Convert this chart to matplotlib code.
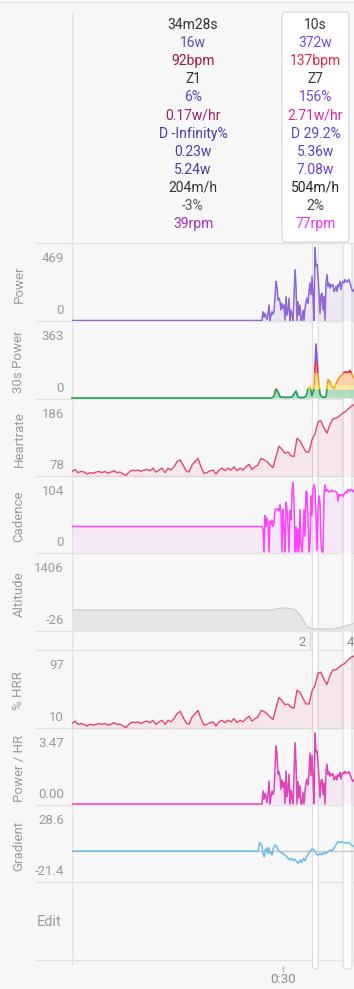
import numpy as np
import matplotlib
matplotlib.use("Agg")
import matplotlib.pyplot as plt
from matplotlib.patches import FancyBboxPatch, Rectangle

plt.rcParams['font.family'] = ['Roboto', 'DejaVu Sans']

# ---------------- data (time in minutes) ----------------
T_END = 40.10
ACTIVE_START = 27.02

power_vals = [0, 56, 20, 45, 30, 5, 40, 98, 0, 34,
              56, 40, 56, 150, 248, 216, 130, 141, 120, 66,
              109, 77, 98, 2, 152, 34, 66, 141, 0, 66,
              34, 0, 152, 323, 216, 0, 120, 34, 98, 0,
              0, 66, 0, 77, 120, 141, 109, 184, 237, 163,
              280, 152, 0, 462, 345, 355, 280, 173, 45, 163,
              173, 66, 152, 0, 237, 291, 216, 237, 205, 227,
              216, 227, 184, 195, 216, 184, 227, 216, 248, 195,
              237, 248, 237, 259, 248, 242, 255, 259, 237, 216,
              195, 184, 195]

p30_vals = [0, 0, 0, 0, 0, 0, 8, 48, 30, 6,
            3, 5, 2, 4, 3, 5, 20, 34, 5, 2,
            2, 3, 8, 45, 55, 12, 45, 265, 110, 20,
            5, 3, 5, 90, 81, 55, 47, 70, 90, 106,
            114, 126, 128, 126, 135, 114, 98]
zone_edges = [-20, 45, 70, 122, 170, 1000]
zone_line_colors = ['#1f9e5a', '#efc000', '#f39a1e', '#e0264f', '#8755d6']
zone_fill_colors = ['#a6d9b4', '#f8e4a0', '#f9cba0', '#f2a8b8', '#c8aef0']

hr_vals = [82, 85, 80, 82, 81, 78, 80, 79, 81, 82,
           80, 82, 79, 81, 83, 80, 81, 78, 76, 81,
           84, 83, 84, 82, 84, 85, 83, 87, 81, 84,
           87, 80, 87, 84, 89, 97, 100, 92, 83, 81,
           92, 97, 102, 89, 79, 80, 83, 84, 78, 84,
           87, 83, 87, 84, 89, 83, 87, 84, 89, 93,
           85, 89, 92, 102, 100, 97, 92, 88, 105, 121,
           116, 110, 112, 106, 105, 133, 129, 120, 112, 112,
           131, 140, 159, 160, 149, 141, 155, 163, 164, 167,
           171, 174, 178, 182, 185]

cad_flat = 39
cad_vals = [39, 35, 0, 56, 39, 52, 44, 0, 47, 42,
            49, 39, 44, 65, 66, 65, 66, 63, 73, 60,
            0, 65, 35, 0, 76, 65, 39, 0, 63, 49,
            91, 106, 76, 0, 39, 0, 35, 0, 65, 10,
            0, 24, 65, 24, 93, 91, 49, 0, 14, 86,
            56, 96, 103, 96, 56, 2, 65, 86, 76, 14,
            0, 0, 86, 103, 93, 96, 93, 92, 93, 92,
            95, 93, 93, 93, 92, 91, 78, 88, 86, 87,
            88, 85, 88, 91, 92, 91, 96, 95, 93, 96,
            94, 92, 95]

alt_t = [0, 28.44, 29.29, 30.28, 31.14, 31.85, 32.42, 32.85, 33.41, 33.98,
         35.26, 37.11, 38.11, 38.82, 39.53, 40.10]
alt_vals = [333, 333, 362, 371, 362, 324, 239, 144, 20, -18,
            -27, -27, 1, 30, 58, 81]

hrr_vals = [13, 16, 12, 13, 12, 10, 12, 11, 12, 13,
            12, 13, 11, 12, 14, 12, 12, 10, 8, 12,
            15, 14, 15, 13, 15, 16, 14, 17, 12, 15,
            17, 12, 17, 15, 19, 25, 28, 21, 14, 12,
            21, 25, 29, 19, 11, 12, 14, 15, 10, 15,
            17, 14, 17, 15, 19, 14, 17, 15, 19, 22,
            16, 19, 21, 29, 28, 25, 21, 18, 32, 45,
            41, 36, 37, 33, 32, 54, 51, 44, 37, 37,
            53, 60, 75, 76, 67, 61, 72, 79, 79, 82,
            85, 87, 91, 94, 96]

pwr_hr_vals = [0, 0.64, 0.23, 0.52, 0.35, 0.06, 0.46, 1.13, 0, 0.39,
               0.64, 0.46, 0.64, 1.72, 2.84, 2.45, 1.46, 1.57, 1.33, 0.72,
               1.18, 0.83, 1.05, 0.02, 1.61, 0.36, 0.69, 1.46, 0, 0.67,
               0.34, 0, 1.43, 3.0, 2.0, 0, 1.1, 0.31, 0.89, 0,
               0, 0.58, 0, 0.67, 1.04, 1.21, 0.93, 1.56, 2.49, 1.39,
               2.38, 1.29, 0, 3.47, 2.55, 2.59, 2.02, 1.23, 0.32, 1.14,
               1.2, 0.46, 1.04, 0, 1.6, 1.95, 1.44, 1.57, 1.35, 1.48,
               1.4, 1.47, 1.18, 1.25, 1.38, 1.17, 1.44, 1.36, 1.56, 1.22,
               1.48, 1.54, 1.47, 1.6, 1.53, 1.49, 1.56, 1.58, 1.44, 1.31,
               1.18, 1.11, 1.17]

grad_t_early = [26.49, 26.64, 26.83, 27.02, 27.21, 27.35, 27.49, 27.68, 27.82,
                27.96, 28.15, 28.30, 28.44, 28.63]
grad_vals = [0, 5.9, 5.4, 3.1, -2.8, -4, 0.7, 1.9, -1.6, 2.6,
             -1.6, -0.5, -2.8, 1.9, 4.2, 3.1, 0.7, -0.5, -1.2, -2.1,
             -2.8, -4, -5.2, -6.3, -5.2, -6.8, -5.9, -7.5, -8.7, -6.3,
             -8.2, -5.2, -6.8, -4, -2.1, -0.5, 1.2, 1.2, -0.5, -2.3,
             -2.8, -1.6, -2.8, -1.2, -2.1, -1.2, -0.5, 0.7, 0.2, 1.2,
             3.1, 5.4, 6.6, 5.9, 6.6, 6.1, 5.9, 5.4, 6.1, 5.4,
             4.2, 3.1]

axis_labels = ['Power', '30s Power', 'Heartrate', 'Cadence', 'Altitude',
               '% HRR', 'Power / HR', 'Gradient']
tick_top = ['469', '363', '186', '104', '1406', '97', '3.47', '28.6']
tick_bot = ['0', '0', '78', '0', '-26', '10', '0.00', '-21.4']

tooltip_left = ['34m28s', '16w', '92bpm', 'Z1', '6%', '0.17w/hr', 'D -Infinity%',
                '0.23w', '5.24w', '204m/h', '-3%', '39rpm']
tooltip_left_colors = ['#333333', '#5550b4', '#a3183c', '#333333', '#5a48b8', '#a0206a',
                       '#4a3ca8', '#4a3ca8', '#4a3ca8', '#333333', '#555555', '#a030b8']
tooltip_right = ['10s', '372w', '137bpm', 'Z7', '156%', '2.71w/hr', 'D 29.2%',
                 '5.36w', '7.08w', '504m/h', '2%', '77rpm']
tooltip_right_colors = ['#333333', '#7a48d8', '#e02848', '#333333', '#7a48d8', '#e0249a',
                        '#5048c8', '#5048c8', '#6a40d0', '#222222', '#444444', '#f030f0']

lap_labels = ['2', '4']
x_tick_vals = [30]
x_tick_labels = ['0:30']

# ---------------- layout ----------------
W, H = 354.0, 989.0
fig = plt.figure(figsize=(W / 100, H / 100), dpi=100)
fig.patch.set_facecolor('#f7f7f7')


def frac(x0, y0, x1, y1):
    return [x0 / W, 1 - y1 / H, (x1 - x0) / W, (y1 - y0) / H]


bg = fig.add_axes([0, 0, 1, 1], zorder=0)
bg.set_xlim(0, W)
bg.set_ylim(H, 0)
bg.set_axis_off()

SEP = '#e2e2e2'
GRAY_TXT = '#9a9a9a'
bg.hlines([1.5], 0, W, color='#e4e4e4', lw=1)
sep_y = [243, 321, 399, 476, 553, 631, 650, 728, 805, 882, 960]
bg.hlines(sep_y, 35, W, color=SEP, lw=1, zorder=1)
bg.vlines([72], 12, 965, color=SEP, lw=1, zorder=1)

# highlighted selection strips
for x0, w in [(312.5, 5.8), (343, 9)]:
    bg.add_patch(FancyBboxPatch((x0, 243), w, 726,
                                boxstyle='round,pad=0,rounding_size=3',
                                fc='white', ec='#e0e0e0', lw=1, zorder=2))

# tooltip box
bg.add_patch(FancyBboxPatch((282, 12), 67, 230,
                            boxstyle='round,pad=0,rounding_size=4',
                            fc='white', ec='#dcdcdc', lw=1, zorder=2))
for i, (tl, cl, tr, cr) in enumerate(zip(tooltip_left, tooltip_left_colors,
                                          tooltip_right, tooltip_right_colors)):
    yb = 29 + 18.1 * i
    bg.text(193, yb, tl, color=cl, fontsize=10, ha='center', va='baseline', zorder=3)
    bg.text(315.5, yb, tr, color=cr, fontsize=10, ha='center', va='baseline', zorder=3)

panels = [(243, 321), (321, 399), (399, 476), (476, 553), (553, 631),
          (650, 728), (728, 805), (805, 882)]
for (y0, y1), lab, tt, tb in zip(panels, axis_labels, tick_top, tick_bot):
    bg.text(19, (y0 + y1) / 2 + 2, lab, rotation=90, ha='center', va='center',
            fontsize=9.5, color=GRAY_TXT)
    bg.text(64, y0 + 14 + 4.6, tt, ha='right', va='baseline', fontsize=9.5, color=GRAY_TXT)
    bg.text(64, y1 - 12 + 4.6, tb, ha='right', va='baseline', fontsize=9.5, color=GRAY_TXT)

bg.text(49.5, 921.5 + 5, 'Edit', ha='center', va='baseline', fontsize=10.5, color=GRAY_TXT)

# lap marker row
bg.vlines([309.5], 631, 650, color='#d8d8d8', lw=1, zorder=3)
bg.text(306, 646.5, lap_labels[0], ha='right', va='baseline', fontsize=9.5, color='#8a8a8a', zorder=3)
bg.text(347, 646.5, lap_labels[1], ha='left', va='baseline', fontsize=9.5, color='#8a8a8a', zorder=3)


def panel(y0, y1, ylim):
    ax = fig.add_axes(frac(72, y0, W, y1), zorder=3)
    ax.set_xlim(0, T_END)
    ax.set_ylim(*ylim)
    ax.set_axis_off()
    return ax


t_fine = np.linspace(ACTIVE_START, T_END, len(power_vals))
t_coarse = np.linspace(ACTIVE_START, T_END, len(p30_vals))
t_hr = np.linspace(0, T_END, len(hr_vals))

# Power
ax = panel(243, 321, (-3, 490))
pt = np.concatenate([[0], t_fine])
pv = np.concatenate([[0], power_vals])
ax.fill_between(pt, 0, pv, color='#8a63d2', alpha=0.10, lw=0)
ax.plot(pt, pv, color='#8d68d6', lw=1.1)

# 30s Power with zone colours
ax = panel(321, 399, (-5, 378))
qt = np.concatenate([[0], t_coarse])
qv = np.concatenate([[0], p30_vals])
for lo, hi, lc, fc in zip(zone_edges[:-1], zone_edges[1:], zone_line_colors, zone_fill_colors):
    clip_f = Rectangle((-1, lo), T_END + 2, hi - lo, transform=ax.transData)
    f = ax.fill_between(qt, 0, qv, color=fc, alpha=0.85, lw=0)
    f.set_clip_path(clip_f)
    clip_l = Rectangle((-1, lo), T_END + 2, hi - lo, transform=ax.transData)
    ln, = ax.plot(qt, qv, color=lc, lw=1.2)
    ln.set_clip_path(clip_l)

# Heartrate
ax = panel(399, 476, (74.9, 193.7))
ax.fill_between(t_hr, 0, hr_vals, color='#e8446e', alpha=0.09, lw=0)
ax.plot(t_hr, hr_vals, color='#e4466e', lw=1.0)

# Cadence
ax = panel(476, 553, (-1.5, 116.3))
ct = np.concatenate([[0], t_fine])
cv = np.concatenate([[cad_flat], cad_vals])
ax.fill_between(ct, 0, cv, color='#ff44ff', alpha=0.08, lw=0)
ax.plot(ct, cv, color='#ff45ff', lw=1.1)

# Altitude
ax = panel(553, 631, (-65, 1415))
ax.fill_between(alt_t, -65, alt_vals, color='#e6e6e6', lw=0)
ax.plot(alt_t, alt_vals, color='#cfcfcf', lw=1.0)

# % HRR
ax = panel(650, 728, (7.5, 103.3))
ax.fill_between(t_hr, 0, hrr_vals, color='#e8446e', alpha=0.09, lw=0)
ax.plot(t_hr, hrr_vals, color='#e4466e', lw=1.0)

# Power / HR
ax = panel(728, 805, (-0.05, 3.72))
ht = np.concatenate([[0], t_fine])
hv = np.concatenate([[0], pwr_hr_vals])
ax.fill_between(ht, 0, hv, color='#e040b8', alpha=0.08, lw=0)
ax.plot(ht, hv, color='#e244b6', lw=1.1)

# Gradient
ax = panel(805, 882, (-21.8, 32.4))
gt = np.concatenate([[0], grad_t_early, np.linspace(28.86, 39.77, 47), [T_END]])
gv = np.concatenate([[0], grad_vals])
ax.axhline(0, color='#c8c8c8', lw=1)
ax.plot(gt, gv, color='#6bbde8', lw=1.1)

# x axis (time)
axx = fig.add_axes(frac(72, 882, W, 966), zorder=1)
axx.set_facecolor('none')
axx.set_xlim(0, T_END)
for s in axx.spines.values():
    s.set_visible(False)
axx.set_yticks([])
axx.set_xticks(x_tick_vals)
axx.set_xticklabels(x_tick_labels)
axx.tick_params(axis='x', length=4.0, width=1, color='#b5b5b5', labelcolor='#8a8a8a',
                labelsize=9.5, pad=1.0)

fig.savefig('out.png', dpi=100, facecolor=fig.get_facecolor())
